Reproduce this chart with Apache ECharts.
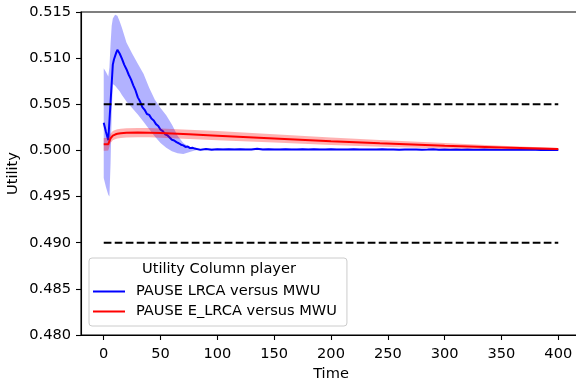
<!DOCTYPE html>
<html>
<head>
<meta charset="utf-8">
<script src="https://cdn.jsdelivr.net/npm/echarts@6/dist/echarts.min.js"></script>
<style>
  html, body { margin: 0; padding: 0; background: #fff; }
  #chart { width: 576px; height: 381px; }
</style>
</head>
<body>
<div id="chart"></div>
<script>
// values
const xTicks = [0, 50, 100, 150, 200, 250, 300, 350, 400];
const yTicks = [0.480, 0.485, 0.490, 0.495, 0.500, 0.505, 0.510, 0.515];

const hlineValues = [0.505, 0.490];
const hlineRange = [0, 400];

const blueName = 'PAUSE LRCA versus MWU';
const redName = 'PAUSE E_LRCA versus MWU';
const legendTitle = 'Utility Column player';

const blueT = [0, 2, 4, 6, 8, 9, 10, 11, 12, 13, 14, 16, 18, 20, 22, 24, 26, 28, 30, 32, 34, 36, 38,
  40, 42, 44, 46, 48, 50, 52, 54, 56, 58, 60, 62, 64, 66, 68, 70, 72, 74, 76, 78,
  80, 85, 90, 95, 100, 105, 110, 115, 120, 125, 130, 135, 140, 145, 150, 155, 160, 165, 170, 175,
  180, 185, 190, 195, 200, 205, 210, 215, 220, 225, 230, 235, 240, 245, 250, 255, 260, 265, 270,
  275, 280, 285, 290, 295, 300, 305, 310, 315, 320, 325, 330, 335, 340, 345, 350, 355, 360, 365,
  370, 375, 380, 385, 390, 395, 400];
const blueV = [0.50300, 0.50200, 0.50110, 0.50520, 0.50930, 0.50985, 0.50970, 0.51060, 0.51090, 0.51075,
  0.51050, 0.50995, 0.50930, 0.50880, 0.50820, 0.50770, 0.50705, 0.50650, 0.50575, 0.50530, 0.50470,
  0.50440, 0.50395, 0.50385, 0.50345, 0.50325, 0.50285, 0.50265, 0.50225, 0.50210, 0.50175, 0.50165,
  0.50140, 0.50115, 0.50108, 0.50090, 0.50078, 0.50062, 0.50055, 0.50038, 0.50042, 0.50025, 0.50030,
  0.50020, 0.50006, 0.50016, 0.50008, 0.50014, 0.50010, 0.50013, 0.50009, 0.50012, 0.50011, 0.50010,
  0.50018, 0.50010, 0.50012, 0.50011, 0.50009, 0.50013, 0.50011, 0.50010, 0.50012, 0.50009, 0.50012,
  0.50011, 0.50010, 0.50012, 0.50010, 0.50011, 0.50009, 0.50012, 0.50010, 0.50011, 0.50009, 0.50010,
  0.50012, 0.50009, 0.50010, 0.50008, 0.50011, 0.50009, 0.50010, 0.50008, 0.50010, 0.50013, 0.50008,
  0.50009, 0.50008, 0.50010, 0.50007, 0.50009, 0.50008, 0.50007, 0.50010, 0.50007, 0.50008, 0.50006,
  0.50008, 0.50007, 0.50006, 0.50008, 0.50006, 0.50007, 0.50005, 0.50006, 0.50005, 0.50005];

const blueBandT = [0, 2, 4, 5, 6, 7, 8, 10, 12, 14, 16, 20, 25, 30, 35, 40, 45, 50, 55, 60, 65, 70, 75, 80, 85, 90, 400];
const blueLow = [0.4970, 0.4960, 0.4952, 0.4950, 0.4985, 0.5040, 0.5072, 0.5070, 0.5067, 0.5064, 0.5060,
  0.5053, 0.5046, 0.5039, 0.5031, 0.5023, 0.5015, 0.5008, 0.5003, 0.4999, 0.4997, 0.4996, 0.4998,
  0.5000, 0.5001, 0.50005, 0.49998];
const blueHigh = [0.5089, 0.5085, 0.5080, 0.5090, 0.5115, 0.5135, 0.5143, 0.5147, 0.5146, 0.5140, 0.5133,
  0.5117, 0.5105, 0.5094, 0.5083, 0.5068, 0.5055, 0.5046, 0.5038, 0.5028, 0.5016, 0.5008, 0.5004,
  0.5003, 0.5002, 0.50022, 0.50012];

const redT = [0, 2, 4, 5, 6, 8, 10, 12, 15, 20, 30, 40, 50, 60, 75, 100, 150, 200, 243, 300, 350, 400];
const redV = [0.50066, 0.50066, 0.50068, 0.50100, 0.50130, 0.50160, 0.50172, 0.50180, 0.50186, 0.50191,
  0.50193, 0.50192, 0.50188, 0.50183, 0.50175, 0.50160, 0.50130, 0.50100, 0.50077, 0.50050, 0.50032, 0.50015];
const redLow = [0.49996, 0.49996, 0.49998, 0.50040, 0.50080, 0.50110, 0.50122, 0.50130, 0.50136, 0.50141,
  0.50143, 0.50142, 0.50138, 0.50133, 0.50125, 0.50110, 0.50085, 0.50060, 0.50041, 0.50020, 0.50012, 0.50003];
const redHigh = [0.50136, 0.50136, 0.50138, 0.50160, 0.50180, 0.50210, 0.50222, 0.50230, 0.50236, 0.50241,
  0.50243, 0.50242, 0.50238, 0.50233, 0.50225, 0.50210, 0.50175, 0.50140, 0.50113, 0.50080, 0.50052, 0.50027];

const FONT = 'DejaVu Sans';
const FS = 14.6;
const pairs = (xs, ys) => xs.map((x, i) => [x, ys[i]]);

// filled band between lo and hi, drawn as one polygon
function band(xs, lo, hi, color, z) {
  return {
    type: 'custom', silent: true, clip: true, z: z,
    data: xs.map((x, i) => [x, lo[i], hi[i]]),
    renderItem: (params, api) => {
      if (params.dataIndex !== 0) return null;
      const top = xs.map((x, i) => api.coord([x, hi[i]]));
      const bottom = xs.map((x, i) => api.coord([x, lo[i]])).reverse();
      return {
        type: 'polygon',
        shape: { points: top.concat(bottom) },
        style: { fill: color }
      };
    }
  };
}

const chart = echarts.init(document.getElementById('chart'), null, { renderer: 'canvas' });

const option = {
  animation: false,
  backgroundColor: '#fff',
  textStyle: { fontFamily: FONT },
  grid: {
    left: 81, top: 12, width: 500, height: 323,
    outerBoundsMode: 'none', containLabel: false,
    show: true, borderColor: '#000', borderWidth: 1.1, backgroundColor: 'transparent'
  },
  xAxis: {
    type: 'value', min: -20, max: 420,
    name: 'Time', nameLocation: 'middle', nameGap: 32, nameMoveOverlap: false,
    nameTextStyle: { color: '#000', fontSize: FS, fontFamily: FONT },
    axisLine: { show: true, onZero: false, lineStyle: { color: '#000', width: 1.1 } },
    axisTick: { show: true, length: 5, customValues: xTicks, lineStyle: { color: '#000', width: 1.1 } },
    axisLabel: { customValues: xTicks, color: '#000', fontSize: FS, fontFamily: FONT, margin: 12 },
    splitLine: { show: false }
  },
  yAxis: {
    type: 'value', min: yTicks[0], max: yTicks[yTicks.length - 1], interval: 0.005,
    name: 'Utility', nameLocation: 'middle', nameGap: 60, nameMoveOverlap: false,
    nameTextStyle: { color: '#000', fontSize: FS, fontFamily: FONT },
    axisLine: { show: true, onZero: false, lineStyle: { color: '#000', width: 1.1 } },
    axisTick: { show: true, length: 5, lineStyle: { color: '#000', width: 1.1 } },
    axisLabel: { color: '#000', fontSize: FS, fontFamily: FONT, margin: 10, formatter: v => v.toFixed(3) },
    splitLine: { show: false }
  },
  legend: {
    data: [blueName, redName],
    orient: 'vertical', left: 89, top: 258,
    padding: [26, 10, 7, 4], itemGap: 5,
    icon: 'rect', itemWidth: 32, itemHeight: 2,
    backgroundColor: 'rgba(255,255,255,0.8)', borderColor: '#cccccc', borderWidth: 1, borderRadius: 3,
    textStyle: { color: '#000', fontSize: FS, fontFamily: FONT, padding: [0, 0, 0, 6] }
  },
  graphic: [{
    type: 'text', left: 142, top: 262, z: 100,
    style: { text: legendTitle, fill: '#000', font: FS + 'px "DejaVu Sans"' }
  }],
  series: [
    band(blueBandT, blueLow, blueHigh, 'rgba(0,0,255,0.3)', 1),
    {
      name: blueName, type: 'line', data: pairs(blueT, blueV), symbol: 'none',
      lineStyle: { color: '#0000ff', width: 2 }, itemStyle: { color: '#0000ff' }, z: 3
    },
    band(redT, redLow, redHigh, 'rgba(255,0,0,0.3)', 4),
    {
      name: redName, type: 'line', data: pairs(redT, redV), symbol: 'none',
      lineStyle: { color: '#ff0000', width: 2 }, itemStyle: { color: '#ff0000' }, z: 5
    },
    ...hlineValues.map(v => ({
      type: 'line', data: hlineRange.map(x => [x, v]), symbol: 'none', silent: true,
      lineStyle: { color: '#000', width: 2, type: [7.7, 3.3] }, z: 6
    }))
  ]
};

chart.setOption(option);
</script>
</body>
</html>
